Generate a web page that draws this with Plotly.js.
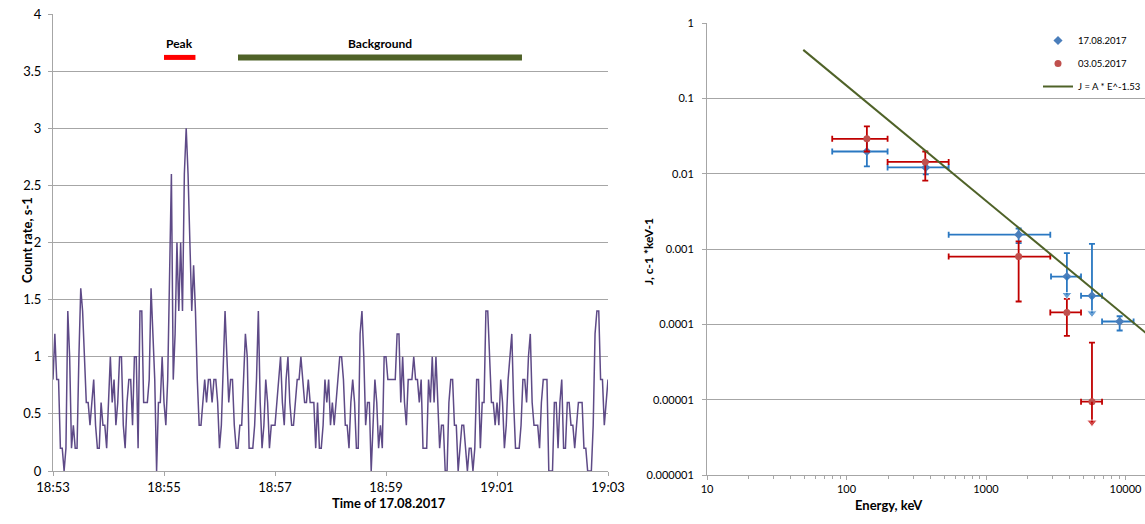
<!DOCTYPE html>
<html>
<head>
<meta charset="utf-8">
<script src="https://cdn.plot.ly/plotly-3.0.1.min.js"></script>
<style>html,body{margin:0;padding:0;background:#fff;}#chart{width:1145px;height:524px;}</style>
</head>
<body>
<div id="chart"></div>
<script>
// ---------- Left chart: count rate time series (2 s bins from 18:53:00) ----------
const seriesStart = '2017-08-17T18:53:00';
const binSeconds = 2;
const countRate = [
0.8,1.2,0.8,0.8,0.2,0.2,0,0.2,1.4,1.0,
0.2,0.4,0.2,0.2,1.0,1.6,1.4,1.0,0.6,0.6,
0.4,0.6,0.8,0.4,0.2,0.2,0.6,0.4,0.4,0.2,
0.6,1.0,0.6,0.8,0.4,0.6,1.0,1.0,0.4,0.2,
0.6,0.8,0.8,0.4,1.0,1.0,0.2,1.4,1.4,0.6,
0.6,0.6,0.8,1.6,1.2,0.8,0,0.6,0.6,1.0,
0.6,0.4,0.8,1.6,2.6,0.8,1.2,2.0,1.4,2.0,
1.4,2.6,3.0,2.6,2.0,1.4,1.8,1.4,0.8,0.4,
0.4,0.6,0.8,0.6,0.8,0.8,0.6,0.8,0.8,0.6,
0.2,0.4,1.0,1.4,1.0,0.6,0.8,0.8,0.4,0.2,
0.2,0.4,0.4,0.8,1.2,1.0,0.2,0.2,0.2,0.4,
0.8,1.4,0.6,0.2,0.4,0.8,0.6,0.2,0.4,0.4,
0.4,0.6,0.8,1.0,0.6,0.4,0.8,1.0,0.6,0.4,
0.4,0.6,0.8,0.8,1.0,0.8,0.6,0.6,0.8,0.6,
0.6,0.6,0.2,0.6,0.2,0.2,0.4,0.8,0.6,0.8,
0.4,0.6,0.4,0.6,0.8,1.0,1.0,0.8,0.4,0.4,
0.2,0.6,0.8,0.6,0.2,0.2,1.2,1.4,1.0,0.4,
0.6,0.6,0,0.4,0.8,0.6,0.2,0.4,0.2,1.0,
1.0,0.8,0.8,0.8,0.8,0.8,1.2,1.2,0.6,1.0,
0.6,0.4,0.8,0.8,0.8,1.0,0.8,0.8,0.6,0.8,
0.2,0.2,0.2,0.8,0.6,1.0,0.6,1.0,0.6,0.2,
0.4,0.4,0,0,0.6,0.8,0.8,0.4,0.4,0,
0.2,0.4,0.4,0.2,0,0.2,0.2,0,0.2,0.8,
0.8,0.2,0.6,0.6,1.4,1.4,1.0,0.6,0.6,0.4,
0.6,0.4,0.8,0.6,0.2,0.4,0.8,1.0,1.2,0.6,
0.2,0.2,0.2,0.4,0.8,0.8,0.6,1.0,1.2,0.6,
0.4,0.4,0.4,0.2,0.6,0.8,0.8,0.8,0,0,
0,0.6,0.6,0.2,0.6,0.8,0.2,0.2,0.6,0.6,
0.4,0.4,0.2,0.4,0.6,0.6,0.6,0.2,0.2,0,
0,0,0.4,1.2,1.4,1.4,0.8,0.8,0.4,0.6,
0.8
];
const leftYTickVals = [0,0.5,1,1.5,2,2.5,3,3.5,4];
const leftYTickText = ['0','0.5','1','1.5','2','2.5','3','3.5','4'];
const intervalNames = ['Peak','Background'];
const intervalStart = ['2017-08-17T18:55:00','2017-08-17T18:56:20'];
const intervalEnd = ['2017-08-17T18:55:34','2017-08-17T19:01:27'];
const intervalLevel = 3.62;
const intervalLabelLevel = 3.74;

// ---------- Right chart: spectra ----------
const augE   = [140, 370, 1714, 3800, 5750, 9080];
const augJ   = [0.0197, 0.0121, 0.00155, 0.000431, 0.000239, 0.000109];
const augElo = [79, 197, 540, 2925, 4800, 6790];
const augEhi = [197, 540, 2890, 4800, 6790, 11430];
const augJhi = [0.028, 0.0148, 0.00187, 0.000883, 0.00117, 0.000128];
const augJlo = [0.0125, 0.0098, 0.0012, 0.000431, 0.000239, 0.0000828];
const augLimitTip = [null, null, null, 0.000247, 0.000141, null];

const mayE   = [140, 367, 1714, 3800, 5750];
const mayJ   = [0.029, 0.0143, 0.000794, 0.000144, 0.0000094];
const mayElo = [79, 197, 540, 2890, 4800];
const mayEhi = [197, 540, 2890, 4800, 6790];
const mayJhi = [0.0424, 0.0197, 0.00126, 0.000218, 0.0000573];
const mayJlo = [0.0197, 0.0081, 0.000201, 0.0000703, 0.0000094];
const mayLimitTip = [null, null, null, null, 0.0000050];

const fitE = [49, 16000];
const fitJ = [0.44, 0.0000627];

const rightYTickVals = [1,0.1,0.01,0.001,0.0001,0.00001,0.000001];
const rightYTickText = ['1','0.1','0.01','0.001','0.0001','0.00001','0.000001'];
const rightXTickVals = [10,100,1000,10000];
const rightXTickText = ['10','100','1000','10000'];
const rightXMinorTicks = [20,30,40,50,60,70,80,90,200,300,400,500,600,700,800,900,
  2000,3000,4000,5000,6000,7000,8000,9000,20000];

// ---------- build ----------
const t0 = new Date(seriesStart + 'Z').getTime();
function fmt(ms){ return new Date(ms).toISOString().slice(0,19).replace('T',' '); }
const times = countRate.map((_, i) => fmt(t0 + i*binSeconds*1000));

const blue = '#4A7EBB', blueErr = '#2A78C2';
const red = '#C0504D', redErr = '#C00000';
const olive = '#4F6228';
const grid = '#A6A6A6';
const FONT = 'Lato, "Open Sans", Arial, sans-serif';

const traces = [];
traces.push({
  x: times, y: countRate, type:'scatter', mode:'lines',
  line:{color:'#5E4A87', width:1.5}, xaxis:'x', yaxis:'y', showlegend:false, hoverinfo:'skip'
});

function diff(a,b){ return a.map((v,i)=>Math.max(0, v - b[i])); }

traces.push({
  name:'17.08.2017', legendgroup:'g1', x: augE, y: augJ, type:'scatter', mode:'markers',
  marker:{symbol:'diamond', size:7, color:blue},
  error_x:{type:'data', symmetric:false, array: diff(augEhi, augE), arrayminus: diff(augE, augElo), color:blueErr, thickness:1.8, width:3},
  error_y:{type:'data', symmetric:false, array: diff(augJhi, augJ), arrayminus: diff(augJ, augJlo), color:blueErr, thickness:1.8, width:3},
  xaxis:'x2', yaxis:'y2'
});
traces.push({
  name:'03.05.2017', legendgroup:'g2', x: mayE, y: mayJ, type:'scatter', mode:'markers',
  marker:{symbol:'circle', size:7, color:red},
  error_x:{type:'data', symmetric:false, array: diff(mayEhi, mayE), arrayminus: diff(mayE, mayElo), color:redErr, thickness:1.8, width:3},
  error_y:{type:'data', symmetric:false, array: diff(mayJhi, mayJ), arrayminus: diff(mayJ, mayJlo), color:redErr, thickness:1.8, width:3},
  xaxis:'x2', yaxis:'y2'
});
function limitArrows(E, J, tips, col){
  E.forEach((e,i)=>{
    if (tips[i] == null) return;
    traces.push({x:[e,e], y:[J[i], tips[i]], type:'scatter', mode:'lines+markers',
      line:{color:col, width:1.8}, marker:{symbol:'triangle-down', size:[0,9], color:col},
      xaxis:'x2', yaxis:'y2', showlegend:false, hoverinfo:'skip'});
  });
}
limitArrows(augE, augJ, augLimitTip, blueErr);
limitArrows(mayE, mayJ, mayLimitTip, redErr);
traces.push({
  name:'J = A * E^-1.53', legendgroup:'g3', x: fitE, y: fitJ, type:'scatter', mode:'lines',
  line:{color:olive, width:2}, xaxis:'x2', yaxis:'y2'
});

const shapes = intervalNames.map((n,i)=>({
  type:'line', xref:'x', yref:'y', x0: intervalStart[i].replace('T',' '), x1: intervalEnd[i].replace('T',' '),
  y0: intervalLevel, y1: intervalLevel,
  line:{color: i===0 ? '#FF0000' : olive, width: i===0 ? 5 : 6}
}));

const annotations = intervalNames.map((n,i)=>{
  const a = new Date(intervalStart[i]+'Z').getTime(), b = new Date(intervalEnd[i]+'Z').getTime();
  return {xref:'x', yref:'y', x: fmt((a+b)/2), y: intervalLabelLevel, text:'<b>'+n+'</b>',
    showarrow:false, font:{family:FONT, size:12, color:'#000'}};
});
annotations.push(
  {xref:'paper', yref:'paper', x:17/1145, y:(524-240)/524, text:'<b>Count rate, s-1</b>', textangle:-90, showarrow:false, font:{family:FONT, size:13, color:'#000'}},
  {xref:'paper', yref:'paper', x:330/1145, y:(524-513)/524, text:'<b>Time of 17.08.2017</b>', showarrow:false, font:{family:FONT, size:13, color:'#000'}},
  {xref:'paper', yref:'paper', x:648/1145, y:(524-252)/524, text:'<b>J, c-1 *keV-1</b>', textangle:-90, showarrow:false, font:{family:FONT, size:12, color:'#000'}},
  {xref:'paper', yref:'paper', x:925/1145, y:(524-515)/524, text:'<b>Energy, keV</b>', showarrow:false, font:{family:FONT, size:13, color:'#000'}}
);

const layout = {
  width:1145, height:524, margin:{l:0,r:0,t:0,b:0, autoexpand:false},
  paper_bgcolor:'#fff', plot_bgcolor:'#fff',
  font:{family:FONT, color:'#000'},
  showlegend:true,
  legend:{x:1038/1145, y:(524-26)/524, xanchor:'left', yanchor:'top', bgcolor:'rgba(255,255,255,0)',
    font:{family:FONT, size:9.5, color:'#000'}, itemwidth:30, tracegroupgap:4},
  xaxis:{domain:[53/1145, 608/1145], type:'date',
    range:['2017-08-17 18:53:00','2017-08-17 19:03:00'],
    tickformat:'%H:%M', dtick:120000, tick0:'2017-08-17 18:53:00',
    showgrid:false, showline:true, linecolor:grid, linewidth:1,
    ticks:'outside', ticklen:4, tickcolor:grid, zeroline:false,
    tickfont:{family:FONT, size:13, color:'#000'}},
  yaxis:{domain:[53/524, 510/524], range:[0,4], tickvals:leftYTickVals, ticktext:leftYTickText,
    showgrid:true, gridcolor:grid, gridwidth:1, showline:true, linecolor:grid, zeroline:false,
    ticks:'outside', ticklen:4, tickcolor:grid, ticklabelstandoff:4,
    tickfont:{family:FONT, size:13, color:'#000'}},
  xaxis2:{domain:[707/1145, 1], type:'log', range:[1, 1 + (1145-707)/139.5], anchor:'y2',
    tickvals:rightXTickVals, ticktext:rightXTickText,
    showgrid:false, showline:true, linecolor:grid, zeroline:false,
    ticks:'outside', ticklen:4, tickcolor:grid,
    minor:{tickmode:'array', tickvals:rightXMinorTicks, ticks:'outside', ticklen:3, tickcolor:grid, showgrid:false},
    tickfont:{family:FONT, size:11, color:'#000'}},
  yaxis2:{domain:[49/524, 501/524], type:'log', range:[-6, 0], anchor:'x2',
    tickvals:rightYTickVals, ticktext:rightYTickText,
    showgrid:true, gridcolor:grid, gridwidth:1, showline:true, linecolor:grid, zeroline:false,
    ticks:'outside', ticklen:4, tickcolor:grid, ticklabelstandoff:6,
    tickfont:{family:FONT, size:11, color:'#000'}},
  shapes: shapes,
  annotations: annotations
};

Plotly.newPlot('chart', traces, layout, {displayModeBar:false, staticPlot:true});
</script>
</body>
</html>
